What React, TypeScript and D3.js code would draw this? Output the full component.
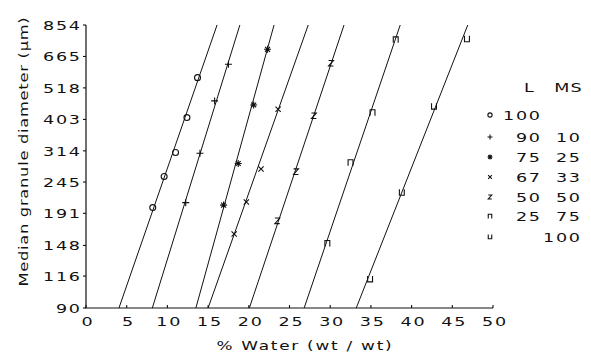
import React from "react";
import * as d3 from "d3";

// Granule size vs. water content for lactose (L) / microcrystalline starch (MS) blends
const mixL = ["100", "90", "75", "67", "50", "25", ""];
const mixMS = ["", "10", "25", "33", "50", "75", "100"];
const markerKinds = ["circle", "plus", "star", "cross", "zee", "cap", "cup"];

// fitted lines: % water where each line meets 90 µm and 854 µm
const waterAtMin = [4.05, 8.15, 13.5, 15.0, 20.07, 26.8, 33.2];
const waterAtMax = [16.1, 18.9, 23.1, 27.3, 31.7, 38.6, 46.9];

// measured points
const water = [
  [8.2, 9.6, 11.0, 12.4, 13.7],
  [12.25, 14.0, 15.8, 17.5],
  [16.9, 18.7, 20.6, 22.3],
  [18.2, 19.7, 21.5, 23.6],
  [23.5, 25.8, 28.0, 30.1],
  [29.65, 32.5, 35.2, 38.05],
  [34.9, 38.8, 42.75, 46.8],
];
const diameter = [
  [200, 256, 310, 409, 562],
  [208, 308, 467, 625],
  [204, 284, 452, 704],
  [162, 209, 272, 437],
  [180, 266, 415, 630],
  [151, 287, 427, 762],
  [113, 225, 446, 762],
];

const xTicks = [0, 5, 10, 15, 20, 25, 30, 35, 40, 45, 50];
const yTicks = [90, 116, 148, 191, 245, 314, 403, 518, 665, 854];

const W = 591;
const H = 355;
const M = { left: 86, right: 493, top: 25, bottom: 308 };
const FONT = "'DejaVu Sans', sans-serif";
const FS = 13;
const INK = "#111";

// Horizontally widened lettering
function WText({
  x,
  y,
  anchor = "start",
  sx = 1.35,
  ls = 1.3,
  rotate = 0,
  children,
}: {
  x: number;
  y: number;
  anchor?: "start" | "middle" | "end";
  sx?: number;
  ls?: number;
  rotate?: number;
  children: React.ReactNode;
}) {
  const shift = anchor === "end" ? ls : anchor === "middle" ? ls / 2 : 0;
  return (
    <g transform={`translate(${x},${y}) rotate(${rotate})`}>
      <text
        transform={`scale(${sx},1)`}
        x={shift}
        dy="0.36em"
        textAnchor={anchor}
        fontSize={FS}
        letterSpacing={ls}
        fill={INK}
      >
        {children}
      </text>
    </g>
  );
}

function Marker({ kind, x, y, s }: { kind: string; x: number; y: number; s: number }) {
  const h = s / 2;
  const common = { fill: "none", stroke: INK, strokeWidth: 1.1 };
  switch (kind) {
    case "circle":
      return <circle cx={x} cy={y} r={h * 0.85} {...common} />;
    case "plus":
      return <path d={`M${x - h},${y}H${x + h}M${x},${y - h}V${y + h}`} {...common} />;
    case "star":
      return (
        <path
          d={`M${x - h},${y}H${x + h}M${x - h * 0.7},${y - h * 0.7}L${x + h * 0.7},${y + h * 0.7}M${x + h * 0.7},${y - h * 0.7}L${x - h * 0.7},${y + h * 0.7}M${x},${y - h}V${y + h}`}
          {...common}
        />
      );
    case "cross":
      return (
        <path
          d={`M${x - h * 0.75},${y - h * 0.75}L${x + h * 0.75},${y + h * 0.75}M${x + h * 0.75},${y - h * 0.75}L${x - h * 0.75},${y + h * 0.75}`}
          {...common}
        />
      );
    case "zee":
      return (
        <path
          d={`M${x - h * 0.7},${y - h * 0.8}H${x + h * 0.7}L${x - h * 0.7},${y + h * 0.8}H${x + h * 0.7}`}
          {...common}
        />
      );
    case "cap":
      return (
        <path
          d={`M${x - h * 0.7},${y + h}V${y - h * 0.7}H${x + h * 0.7}V${y + h}`}
          {...common}
        />
      );
    case "cup":
      return (
        <path
          d={`M${x - h * 0.7},${y - h}V${y + h * 0.7}H${x + h * 0.7}V${y - h}`}
          {...common}
        />
      );
    default:
      return null;
  }
}

export default function App() {
  const x = d3.scaleLinear().domain([0, 50]).range([M.left, M.right]);
  const y = d3.scaleLog().domain([90, 854]).range([M.bottom, M.top]);
  const line = d3
    .line<[number, number]>()
    .x((d) => x(d[0]))
    .y((d) => y(d[1]));

  const legendX = 490;
  const legendHeaderY = 87;
  const legendRows = [115, 137, 157, 177, 197, 216, 237];

  return (
    <svg
      width={W}
      height={H}
      style={{ position: "absolute", left: 0, top: 0, background: "#fff" }}
      fontFamily={FONT}
    >
      <rect width={W} height={H} fill="#fff" />

      {/* axes */}
      <path
        d={`M${M.left},${M.top}V${M.bottom}H${M.right}`}
        fill="none"
        stroke={INK}
        strokeWidth={1.2}
      />
      {yTicks.map((t) => (
        <g key={"y" + t}>
          <line x1={M.left - 3} x2={M.left} y1={y(t)} y2={y(t)} stroke={INK} strokeWidth={1.1} />
          <WText x={80} y={y(t)} anchor="end">
            {t}
          </WText>
        </g>
      ))}
      {xTicks.map((t) => (
        <g key={"x" + t}>
          <line x1={x(t)} x2={x(t)} y1={M.bottom} y2={M.bottom - 3} stroke={INK} strokeWidth={1.1} />
          <WText x={x(t) + 1} y={321.5} anchor="middle">
            {t}
          </WText>
        </g>
      ))}

      {/* axis titles */}
      <WText x={304} y={345.5} anchor="middle" sx={1.3} ls={1.35}>
        % Water (wt / wt)
      </WText>
      <WText x={23} y={152} anchor="middle" sx={1.25} ls={0.6} rotate={-90}>
        Median granule diameter (μm)
      </WText>

      {/* fitted lines and points */}
      {markerKinds.map((kind, i) => (
        <g key={kind}>
          <path
            d={line([
              [waterAtMin[i], 90],
              [waterAtMax[i], 854],
            ]) as string}
            fill="none"
            stroke={INK}
            strokeWidth={1}
          />
          {water[i].map((w, j) => (
            <Marker key={j} kind={kind} x={x(w)} y={y(diameter[i][j])} s={7} />
          ))}
        </g>
      ))}

      {/* legend */}
      <WText x={529} y={legendHeaderY} anchor="middle">
        L
      </WText>
      <WText x={568} y={legendHeaderY} anchor="middle" ls={0.8}>
        MS
      </WText>
      {markerKinds.map((kind, i) => (
        <g key={"leg" + kind}>
          <Marker kind={kind} x={legendX} y={legendRows[i]} s={5} />
          <WText x={540} y={legendRows[i]} anchor="end">
            {mixL[i]}
          </WText>
          <WText x={580} y={legendRows[i]} anchor="end">
            {mixMS[i]}
          </WText>
        </g>
      ))}
    </svg>
  );
}
